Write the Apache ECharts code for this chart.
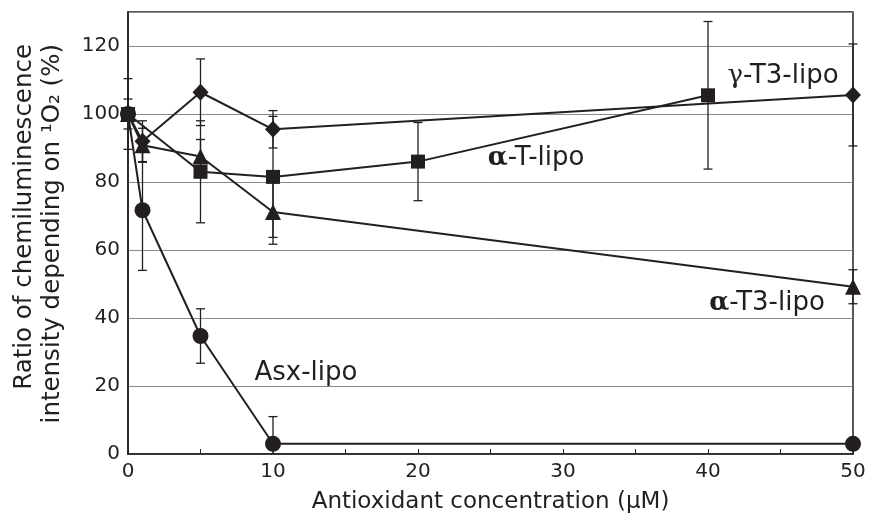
<!DOCTYPE html>
<html>
<head>
<meta charset="utf-8">
<script src="https://cdn.jsdelivr.net/npm/echarts@6/dist/echarts.min.js"></script>
<style>
  html, body { margin: 0; padding: 0; background: #fff; }
  #chart { width: 869px; height: 516px; }
</style>
</head>
<body>
<div id="chart"></div>
<script>
// ---- data ----
const xTicks = [0, 10, 20, 30, 40, 50];

const asxX   = [0, 1, 5, 10, 50];
const asxY   = [100, 71.7, 34.7, 3, 3];
const asxErr = [0, 17.7, 8, 8, 0];

const gT3X   = [0, 1, 5, 10, 50];
const gT3Y   = [100, 92, 106.4, 95.5, 105.6];
const gT3Err = [10.4, 6, 9.8, 5.5, 15];

const aTX    = [0, 5, 10, 20, 40];
const aTY    = [100, 83, 81.5, 86, 105.5];
const aTErr  = [4.4, 15, 17.8, 11.5, 21.7];

const aT3X   = [0, 1, 5, 10, 50];
const aT3Y   = [100, 90.8, 87.5, 71.2, 49.2];
const aT3Err = [0, 5, 5, 9.5, 5];

const INK = '#231f20';
const FONT = 'DejaVu Sans';

function pairs(xs, ys) { return xs.map((x, i) => [x, ys[i]]); }
function triples(xs, ys, es) { return xs.map((x, i) => [x, ys[i], es[i]]); }

function errSeries(xs, ys, es) {
  return {
    type: 'custom',
    data: triples(xs, ys, es),
    z: 1,
    silent: true,
    renderItem: function (params, api) {
      const x = api.value(0), y = api.value(1), e = api.value(2);
      if (!e) return null;
      const top = api.coord([x, y + e]);
      const bot = api.coord([x, Math.max(0, y - e)]);
      const cw = 4.5;
      const st = { stroke: INK, lineWidth: 1.3 };
      const children = [
        { type: 'line', shape: { x1: top[0], y1: top[1], x2: bot[0], y2: bot[1] }, style: st },
        { type: 'line', shape: { x1: top[0] - cw, y1: top[1], x2: top[0] + cw, y2: top[1] }, style: st }
      ];
      if (y - e > 0) {
        children.push({ type: 'line', shape: { x1: bot[0] - cw, y1: bot[1], x2: bot[0] + cw, y2: bot[1] }, style: st });
      }
      return { type: 'group', children: children };
    }
  };
}

function lineSeries(name, xs, ys, symbol, size) {
  return {
    name: name,
    type: 'line',
    data: pairs(xs, ys),
    symbol: symbol,
    symbolSize: size,
    showAllSymbol: true,
    z: 3,
    itemStyle: { color: INK, borderWidth: 0, opacity: 1 },
    lineStyle: { color: INK, width: 2 },
    emphasis: { disabled: true },
    animation: false
  };
}

const chart = echarts.init(document.getElementById('chart'), null, { renderer: 'canvas' });

const LS = 26;
const labelRich = {
  g: { fontFamily: 'DejaVu Serif', fontWeight: 'bold', fontSize: LS, color: INK },
  gr: { fontFamily: 'DejaVu Serif', fontSize: LS, color: INK },
  t: { fontFamily: FONT, fontSize: LS, color: INK }
};

function label(text, x, y) {
  return {
    type: 'text',
    x: x, y: y,
    z: 10,
    style: {
      text: text,
      rich: labelRich,
      align: 'center',
      verticalAlign: 'middle',
      fill: INK,
      font: LS + 'px ' + FONT
    }
  };
}

chart.setOption({
  animation: false,
  backgroundColor: '#fff',
  grid: {
    left: 128, right: 16, top: 12, bottom: 62,
    outerBoundsMode: 'none',
    containLabel: false,
    show: true, borderColor: INK, borderWidth: 1.5, backgroundColor: 'transparent'
  },
  xAxis: {
    type: 'value',
    min: 0, max: 50, interval: 10,
    name: 'Antioxidant concentration (\u03bcM)',
    nameLocation: 'middle',
    nameGap: 37,
    nameTextStyle: { fontFamily: FONT, fontSize: 23, color: INK },
    axisLine: { show: true, lineStyle: { color: INK, width: 1.5 } },
    axisTick: { show: true, inside: true, length: 5, lineStyle: { color: INK } },
    minorTick: { show: true, splitNumber: 2, length: 5, lineStyle: { color: INK } },
    axisLabel: {
      fontFamily: FONT, fontSize: 20, color: INK, margin: 8,
      formatter: function (v) { return xTicks.indexOf(v) >= 0 ? String(v) : ''; }
    },
    splitLine: { show: false }
  },
  yAxis: {
    type: 'value',
    min: 0, max: 130, interval: 20,
    axisLine: { show: true, lineStyle: { color: INK, width: 1.5 } },
    axisTick: { show: false },
    axisLabel: { fontFamily: FONT, fontSize: 20, color: INK, margin: 8, showMaxLabel: false,
      formatter: function (v) { return v > 120 ? '' : String(v); } },
    splitLine: { show: true, lineStyle: { color: '#8a8a8a', width: 1 } }
  },
  graphic: [
    {
      type: 'text',
      x: 39, y: 44,
      rotation: Math.PI / 2,
      style: {
        text: 'Ratio of chemiluminescence\nintensity depending on \u00b9O\u2082 (%)',
        align: 'right', verticalAlign: 'middle',
        fill: INK, font: '24.5px ' + FONT, lineHeight: 28
      }
    },
    label('{gr|\u03b3}{t|-T3-lipo}', 783, 76),
    label('{g|\u03b1}{t|-T-lipo}', 536, 158),
    label('{g|\u03b1}{t|-T3-lipo}', 767, 303),
    label('{t|Asx-lipo}', 306, 373)
  ],
  series: [
    errSeries(asxX, asxY, asxErr),
    errSeries(gT3X, gT3Y, gT3Err),
    errSeries(aTX, aTY, aTErr),
    errSeries(aT3X, aT3Y, aT3Err),
    lineSeries('Asx-lipo', asxX, asxY, 'circle', 16),
    lineSeries('\u03b3-T3-lipo', gT3X, gT3Y, 'diamond', [16, 17]),
    lineSeries('\u03b1-T-lipo', aTX, aTY, 'rect', 14),
    lineSeries('\u03b1-T3-lipo', aT3X, aT3Y, 'triangle', 16)
  ]
});
</script>
</body>
</html>
